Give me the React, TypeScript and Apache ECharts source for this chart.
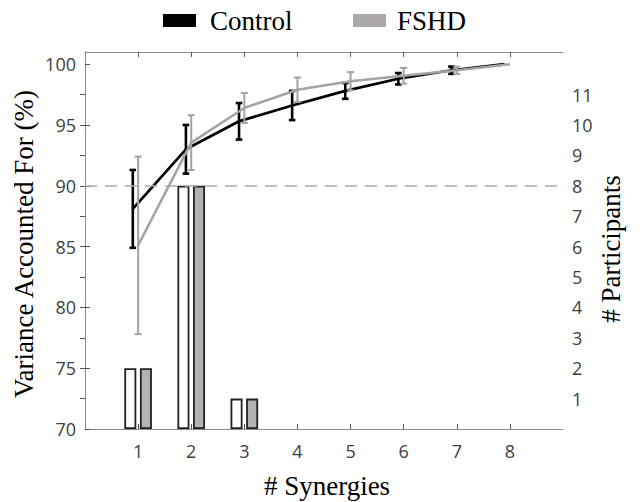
import React, { useEffect, useRef } from "react";
import * as echarts from "echarts";

const synergies = [1, 2, 3, 4, 5, 6, 7, 8];
const controlVAF = [88.1, 93.0, 95.3, 96.6, 97.8, 98.8, 99.5, 100];
const controlSD = [3.2, 2.0, 1.5, 1.2, 0.65, 0.47, 0.3, 0];
const fshdVAF = [85.1, 93.55, 96.4, 97.9, 98.6, 99.05, 99.5, 100];
const fshdSD = [7.3, 2.25, 1.23, 1.0, 0.75, 0.65, 0.3, 0];
const barSynergies = [1, 2, 3];
const controlParticipants = [2, 8, 1];
const fshdParticipants = [2, 8, 1];
const leftTicks = [70, 75, 80, 85, 90, 95, 100];
const rightTicks = [1, 2, 3, 4, 5, 6, 7, 8, 9, 10, 11];
const threshold = 90;

const CONTROL_OFFSET = -0.1;
const SANS = "Open Sans";
const SERIF = "Liberation Serif";
const AXIS_GRAY = "#8a8a8a";
const FSHD_GRAY = "#a3a3a3";

function errorBarSeries(name: string, xs: number[], mean: number[], sd: number[], color: string, width: number, capHalf: number, z: number) {
  return {
    type: "custom",
    name,
    xAxisIndex: 0,
    yAxisIndex: 0,
    z,
    data: xs.map((x, i) => [x, mean[i] - sd[i], mean[i] + sd[i]]).filter((d) => d[2] - d[1] > 0),
    renderItem: (params: any, api: any) => {
      const x = api.value(0);
      const lo = api.coord([x, api.value(1)]);
      const hi = api.coord([x, api.value(2)]);
      const style = { stroke: color, lineWidth: width };
      return {
        type: "group",
        children: [
          { type: "line", shape: { x1: lo[0], y1: lo[1], x2: hi[0], y2: hi[1] }, style },
          { type: "line", shape: { x1: lo[0] - capHalf, y1: lo[1], x2: lo[0] + capHalf, y2: lo[1] }, style },
          { type: "line", shape: { x1: hi[0] - capHalf, y1: hi[1], x2: hi[0] + capHalf, y2: hi[1] }, style },
        ],
      };
    },
  };
}

export default function App() {
  const ref = useRef<HTMLDivElement>(null);
  useEffect(() => {
    if (!ref.current) return;
    const chart = echarts.init(ref.current, undefined, { renderer: "svg" });
    const labelStyle = { color: "#404040", fontFamily: SANS, fontSize: 18 };
    const titleText = (text: string, x: number, y: number, rotation: number) => ({
      type: "text",
      x,
      y,
      rotation,
      style: { text, fontFamily: SERIF, fontSize: 27, fill: "#000", align: "center", verticalAlign: "middle" },
    });
    const tickStyle = { show: true, inside: true, length: 5, lineStyle: { color: "#555" } };
    chart.setOption({
      animation: false,
      grid: { left: 85, right: 81, top: 52, bottom: 73, show: false },
      graphic: [
        { type: "rect", shape: { x: 163, y: 14, width: 33, height: 13 }, style: { fill: "#000" } },
        { type: "text", x: 210, y: 21, style: { text: "Control", fontFamily: SERIF, fontSize: 27, fill: "#000", verticalAlign: "middle" } },
        { type: "rect", shape: { x: 353, y: 14, width: 33, height: 13 }, style: { fill: "#aca8a8" } },
        { type: "text", x: 397, y: 21, style: { text: "FSHD", fontFamily: SERIF, fontSize: 27, fill: "#000", verticalAlign: "middle" } },
        titleText("Variance Accounted For (%)", 24, 244, Math.PI / 2),
        titleText("# Participants", 611, 249, Math.PI / 2),
        titleText("# Synergies", 327, 486, 0),
      ],
      xAxis: [
        {
          type: "value",
          min: 0,
          max: 9,
          interval: 1,
          position: "bottom",
          axisLine: { show: true, lineStyle: { color: AXIS_GRAY, width: 1 } },
          axisTick: { ...tickStyle, customValues: synergies },
          axisLabel: { ...labelStyle, margin: 13, customValues: synergies, formatter: (v: number) => (v >= 1 && v <= 8 ? String(v) : "") },
          splitLine: { show: false },
        },
        {
          type: "value",
          min: 0,
          max: 9,
          interval: 1,
          position: "top",
          axisLine: { show: true, lineStyle: { color: AXIS_GRAY, width: 1 } },
          axisTick: { ...tickStyle, customValues: synergies },
          axisLabel: { show: false },
          splitLine: { show: false },
        },
      ],
      yAxis: [
        {
          type: "value",
          min: 70,
          max: 101,
          interval: 5,
          position: "left",
          axisLine: { show: true, lineStyle: { color: AXIS_GRAY, width: 1 } },
          axisTick: { ...tickStyle, customValues: leftTicks },
          axisLabel: { ...labelStyle, margin: 9, customValues: leftTicks, formatter: (v: number) => (v <= 100 ? String(v) : "") },
          splitLine: { show: false },
        },
        {
          type: "value",
          min: 0,
          max: 12.4,
          interval: 1,
          position: "right",
          axisLine: { show: true, lineStyle: { color: AXIS_GRAY, width: 1 } },
          axisTick: { ...tickStyle, customValues: rightTicks },
          axisLabel: { ...labelStyle, margin: 9, customValues: rightTicks, formatter: (v: number) => (v >= 1 && v <= 11 ? String(v) : "") },
          splitLine: { show: false },
        },
      ],
      series: [
        {
          type: "bar",
          name: "Control participants",
          xAxisIndex: 0,
          yAxisIndex: 1,
          barWidth: 12,
          barGap: "30%",
          z: 1,
          itemStyle: { color: "#ffffff", borderColor: "#222", borderWidth: 1.8 },
          data: barSynergies.map((s, i) => [s, controlParticipants[i]]),
        },
        {
          type: "bar",
          name: "FSHD participants",
          xAxisIndex: 0,
          yAxisIndex: 1,
          barWidth: 12,
          barGap: "30%",
          z: 1,
          itemStyle: { color: "#b3b3b3", borderColor: "#222", borderWidth: 1.8 },
          data: barSynergies.map((s, i) => [s, fshdParticipants[i]]),
        },
        {
          type: "line",
          name: "Control",
          xAxisIndex: 0,
          yAxisIndex: 0,
          z: 3,
          symbol: "none",
          lineStyle: { color: "#000", width: 2.7 },
          data: synergies.map((s, i) => [s + CONTROL_OFFSET, controlVAF[i]]),
          markLine: {
            silent: true,
            symbol: "none",
            label: { show: false },
            lineStyle: { color: "#aaaaaa", type: [12, 8], width: 1.5 },
            data: [{ yAxis: threshold }],
          },
        },
        errorBarSeries("Control SD", synergies.map((s) => s + CONTROL_OFFSET), controlVAF, controlSD, "#000", 2.6, 3.3, 4),
        {
          type: "line",
          name: "FSHD",
          xAxisIndex: 0,
          yAxisIndex: 0,
          z: 5,
          symbol: "none",
          lineStyle: { color: FSHD_GRAY, width: 2.5 },
          data: synergies.map((s, i) => [s, fshdVAF[i]]),
        },
        errorBarSeries("FSHD SD", synergies, fshdVAF, fshdSD, FSHD_GRAY, 2, 3.5, 6),
      ],
    });
    return () => chart.dispose();
  }, []);
  return <div ref={ref} style={{ width: 644, height: 502, position: "absolute", left: 0, top: 0 }} />;
}
